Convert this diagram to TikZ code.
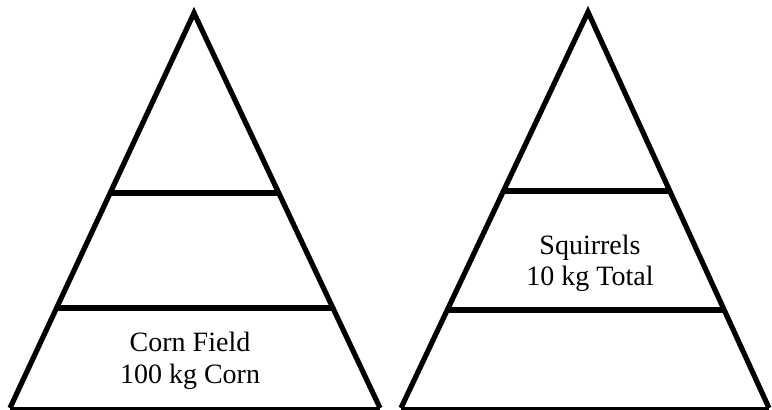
\documentclass[tikz,border=0pt]{standalone}
\usepackage{fontspec}
\setmainfont{Liberation Serif}
\usetikzlibrary{calc}
\begin{document}
\begin{tikzpicture}[x=1pt,y=-1pt,
  side/.style={line width=5.2pt,line join=miter},
  level/.style={line width=5.5pt},
  basel/.style={line width=3pt},
  lbl/.style={anchor=base,inner sep=0pt,font=\fontsize{28}{32}\selectfont}]
\useasboundingbox (0,0) rectangle (772,410);
% left pyramid
\coordinate (LA) at (194,13);
\coordinate (LL) at (10,408);
\coordinate (LR) at (380,408);
\draw[side] (LL) -- (LA) -- (LR);
\draw[basel] (LL) -- (LR);
\draw[level] ($(LA)!0.4557!(LL)$) -- ($(LA)!0.4557!(LR)$);
\draw[level] ($(LA)!0.7468!(LL)$) -- ($(LA)!0.7468!(LR)$);
\node[lbl] (corn1) at (190,351) {Corn Field};
\node[lbl] (corn2) at (190,383) {100 kg Corn};
% right pyramid
\coordinate (RA) at (588,12);
\coordinate (RL) at (401,408);
\coordinate (RR) at (769,408);
\draw[side] (RL) -- (RA) -- (RR);
\draw[basel] (RL) -- (RR);
\draw[level] ($(RA)!0.452!(RL)$) -- ($(RA)!0.452!(RR)$);
\draw[level] ($(RA)!0.7525!(RL)$) -- ($(RA)!0.7525!(RR)$);
\node[lbl] (sq1) at (590,254) {Squirrels};
\node[lbl] (sq2) at (590,285) {10 kg Total};
\end{tikzpicture}
\end{document}
